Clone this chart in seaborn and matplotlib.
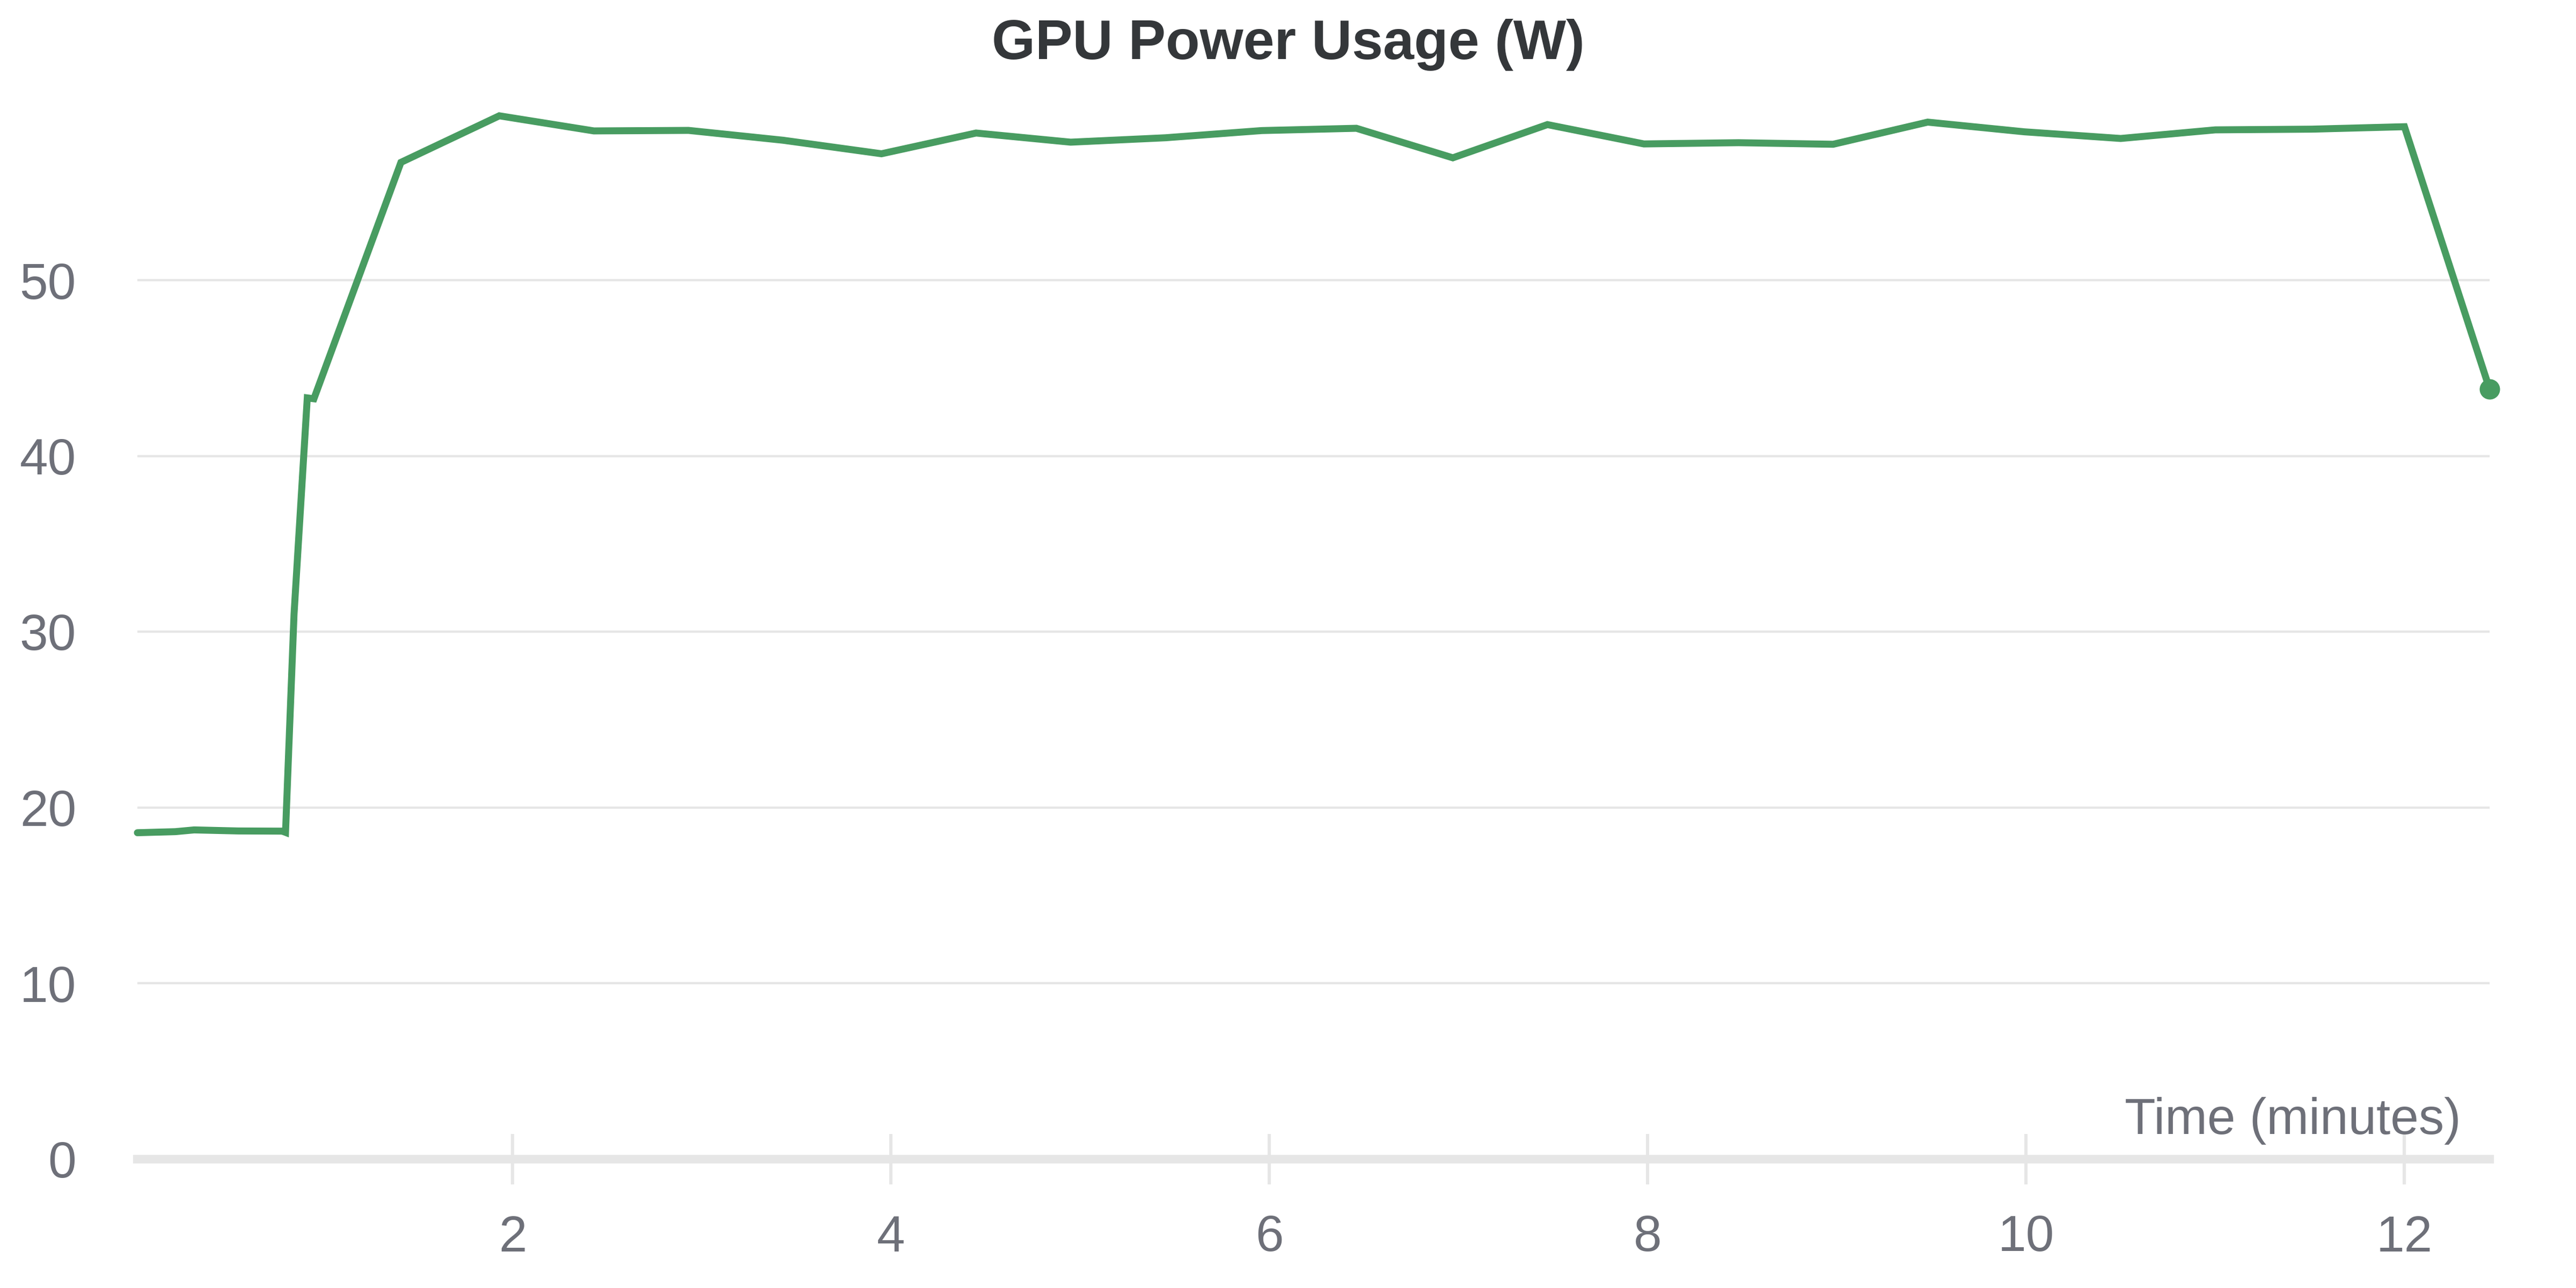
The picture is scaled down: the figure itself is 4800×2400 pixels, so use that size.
import matplotlib
matplotlib.use("Agg")
import matplotlib.pyplot as plt
import seaborn as sns
import pandas as pd

# ---- data ----
time_min = [0.017, 0.217, 0.317, 0.55, 0.783, 0.80, 0.845, 0.915, 0.95,
            1.41, 1.93, 2.43, 2.93, 3.43, 3.95, 4.45, 4.95, 5.45, 5.96,
            6.46, 6.97, 7.47, 7.98, 8.48, 8.98, 9.48, 9.99, 10.50, 11.00,
            11.51, 12.00, 12.45]
power_w = [18.56, 18.62, 18.72, 18.66, 18.65, 18.58, 31.0, 43.3, 43.25,
           56.7, 59.35, 58.49, 58.52, 57.96, 57.19, 58.37, 57.85, 58.10, 58.51,
           58.64, 56.96, 58.85, 57.75, 57.82, 57.73, 58.99, 58.44, 58.06, 58.55,
           58.59, 58.73, 43.8]
y_ticks = [0, 10, 20, 30, 40, 50]
x_ticks = [2, 4, 6, 8, 10, 12]
title = "GPU Power Usage (W)"
x_label = "Time (minutes)"

df = pd.DataFrame({"time": time_min, "power": power_w})

sns.set_theme(style="white")
plt.rcParams["font.family"] = ["Liberation Sans", "DejaVu Sans"]

W, H, DPI = 4800, 2400, 200
fig = plt.figure(figsize=(W / DPI, H / DPI), dpi=DPI)
px = 72 / DPI  # points per pixel

left, right = 256, 4639
y0, ytop = 2159.5, 194.5
ax = fig.add_axes([left / W, 1 - y0 / H, (right - left) / W, (y0 - ytop) / H])

line_color = "#489c61"
label_color = "#6e7079"
grid_color = "#e6e6e6"

sns.lineplot(data=df, x="time", y="power", ax=ax, color=line_color,
             linewidth=13 * px, marker="o", markevery=[len(df) - 1],
             markersize=38 * px, markeredgewidth=0, clip_on=False,
             solid_joinstyle="miter", zorder=5)

ax.set_xlim(time_min[0], time_min[-1])
ax.set_ylim(0, 60)
ax.set_yticks(y_ticks)
ax.set_xticks(x_ticks)
ax.set_yticklabels([str(v) for v in y_ticks])
ax.set_xticklabels([str(v) for v in x_ticks])
ax.set_xlabel("")
ax.set_ylabel("")

for s in ["top", "right", "left"]:
    ax.spines[s].set_visible(False)
ax.spines["bottom"].set_color(grid_color)
ax.spines["bottom"].set_linewidth(16 * px)
ax.spines["bottom"].set_zorder(1)

ax.yaxis.grid(True, color=grid_color, linewidth=4.3 * px)
ax.xaxis.grid(False)
ax.set_axisbelow(True)

fs = 34
ax.tick_params(axis="y", left=False, length=0, pad=114 * px, labelsize=fs,
               labelcolor=label_color)
ax.tick_params(axis="x", bottom=True, direction="inout", length=94 * px,
               width=6 * px, color=grid_color, pad=56 * px, labelsize=fs,
               labelcolor=label_color)

fig.text(4586 / W, 1 - 2112.7 / H, x_label, ha="right", va="baseline",
         fontsize=fs, color=label_color)
fig.text(0.5, 1 - 110 / H, title, ha="center", va="baseline",
         fontsize=37.5, fontweight="bold", color="#34373a")

fig.savefig("out.png", dpi=DPI, facecolor="white")
